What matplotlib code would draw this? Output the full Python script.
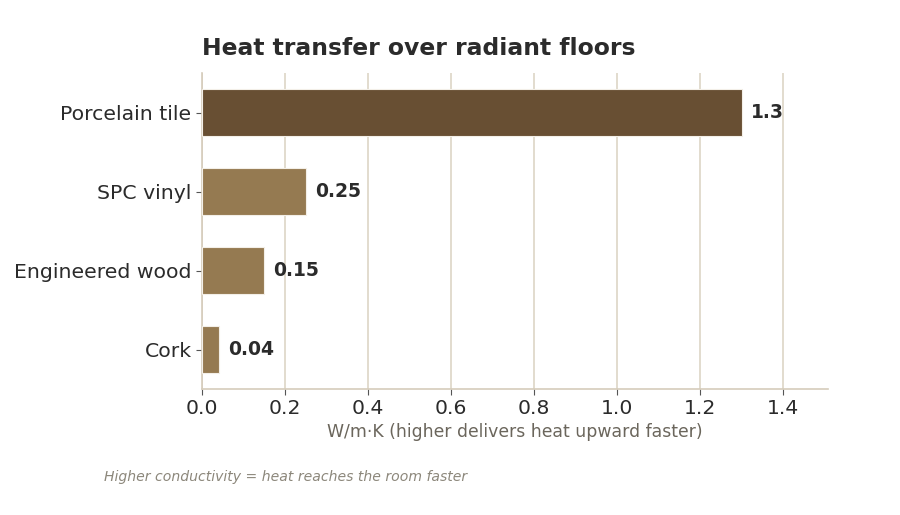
import matplotlib
matplotlib.use("Agg")
import matplotlib.pyplot as plt

materials = ["Porcelain tile", "SPC vinyl", "Engineered wood", "Cork"]
conductivity = [1.3, 0.25, 0.15, 0.04]
value_labels = ["1.3", "0.25", "0.15", "0.04"]
xticks = [0.0, 0.2, 0.4, 0.6, 0.8, 1.0, 1.2, 1.4]

dark = "#684f33"
light = "#957a51"
beige = "#ddd5c6"
text_dark = "#2b2b2b"

fig = plt.figure(figsize=(9, 5.15), dpi=100)
ax = fig.add_axes([202 / 900, 1 - 389 / 515, 626 / 900, 316 / 515])

ypos = list(range(len(materials)))
colors = [dark] + [light] * (len(materials) - 1)
ax.barh(ypos, conductivity, height=0.6, color=colors, edgecolor="#f3efe8",
        linewidth=0.8, zorder=3)

for y, v, lab in zip(ypos, conductivity, value_labels):
    ax.text(v + 0.022, y, lab, va="center", ha="left", fontsize=13.5,
            fontweight="bold", color=text_dark)

ax.set_yticks(ypos)
ax.set_yticklabels(materials)
ax.set_ylim(len(materials) - 0.5, -0.5)
ax.set_xlim(0, 1.508)
ax.set_xticks(xticks)
ax.set_xticklabels([f"{t:.1f}" for t in xticks])
ax.tick_params(axis="both", labelsize=14.7, colors="#555555",
               labelcolor=text_dark, length=4.5, pad=3)

ax.grid(axis="x", color=beige, linewidth=1.2, zorder=0)
for side in ["top", "right"]:
    ax.spines[side].set_visible(False)
for side in ["left", "bottom"]:
    ax.spines[side].set_color("#d5ccbb")
    ax.spines[side].set_linewidth(1.2)

ax.set_xlabel("W/m·K (higher delivers heat upward faster)", fontsize=12.4,
              color="#6b665c", labelpad=3)
ax.set_title("Heat transfer over radiant floors", loc="left", fontsize=16.9,
             fontweight="bold", color=text_dark, pad=13)

fig.text(104 / 900, 1 - 477 / 515, "Higher conductivity = heat reaches the room faster",
         fontsize=10.1, style="italic", color="#8c877b", va="center", ha="left")

fig.savefig("out.png", dpi=100)
